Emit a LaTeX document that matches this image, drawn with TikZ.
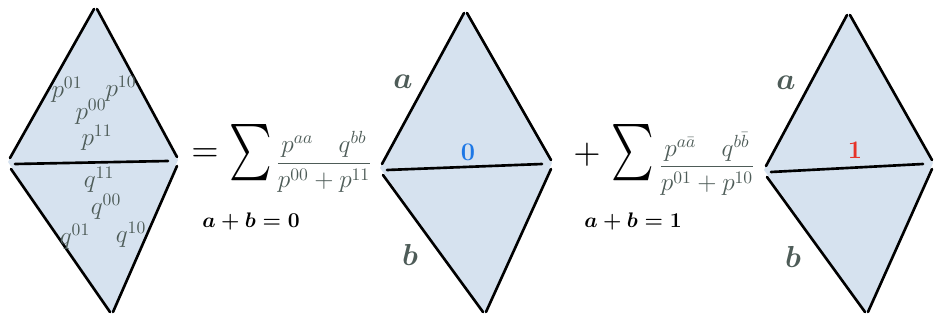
\documentclass[tikz,border=0pt]{standalone}
\usepackage{amsmath}
\usepackage{graphicx}
\usepackage{tikz}
\usetikzlibrary{calc}
\definecolor{cellblue}{RGB}{214,226,239}
\definecolor{chalk}{RGB}{78,92,88}
\definecolor{zeroblue}{RGB}{30,120,230}
\definecolor{onered}{RGB}{230,50,40}
\tikzset{
    % 菱形边线
    edge/.style={line width=1.5pt, black, line cap=round},
    lbl/.style={chalk, inner sep=0pt, font=\Large},
    sidelbl/.style={chalk, inner sep=0pt, font=\LARGE\boldmath},
    bigsym/.style={black, inner sep=0pt}
}
\begin{document}
\begin{tikzpicture}[x=0.02cm,y=-0.02cm]
	\useasboundingbox (0,0) rectangle (937,321);
	
	% 三个菱形
	\path
	(95,8) coordinate (t1) (8,162) coordinate (l1) (178,160) coordinate (r1) (112,313) coordinate (d1)
	(465,12) coordinate (t2) (380,168) coordinate (l2) (552,163) coordinate (r2) (485,313) coordinate (d2)
	(848,14) coordinate (t3) (764,170) coordinate (l3) (933,163) coordinate (r3) (867,313) coordinate (d3);
	
	\foreach \i in {1,2,3}{
		\fill[cellblue] (t\i) -- (r\i) -- (d\i) -- (l\i) -- cycle;
		\draw[edge] ($(l\i)+(2,-4)$) -- ($(t\i)+(-1,1)$);
		\draw[edge] ($(t\i)+(2,1)$) -- ($(r\i)+(-1,-3)$);
		\draw[edge] ($(l\i)+(3,7)$) -- ($(d\i)+(-2,-1)$);
		\draw[edge] ($(r\i)+(-1,6)$) -- ($(d\i)+(1,-1)$);
		\draw[edge] ($(l\i)+(7,2)$) -- ($(r\i)+(-10,1)$);
	}
	
	% 左边菱形里的文字
	\node[lbl] (p01) at (67,90) {$p^{01}$};
	\node[lbl] (p10) at (121,89) {$p^{10}$};
	\node[lbl] (p00) at (91,112) {$p^{00}$};
	\node[lbl] (p11) at (97,138) {$p^{11}$};
	\node[lbl] (q11) at (99,180) {$q^{11}$};
	\node[lbl] (q00) at (106,207) {$q^{00}$};
	\node[lbl] (q01) at (75,237) {$q^{01}$};
	\node[lbl] (q10) at (131,235) {$q^{10}$};
	
	% 等号和第一个求和
	\node[bigsym] (eq) at (205,155) {\scalebox{2}{$=$}};
	\node[bigsym] (sum0) at (251,153) {\scalebox{2.3}[3.2]{$\sum$}};
	\node[bigsym, font=\large\boldmath] (idx0) at (251,221) {$a+b=0$};
	\node[lbl] (frac0) at (324,162) {$\dfrac{p^{aa}\quad q^{bb}}{p^{00}+p^{11}}$};
	
	% 加号和第二个求和
	\node[bigsym] (plus) at (587,155) {\scalebox{2}{$+$}};
	\node[bigsym] (sum1) at (633,153) {\scalebox{2.3}[3.2]{$\sum$}};
	\node[bigsym, font=\large\boldmath] (idx1) at (633,221) {$a+b=1$};
	\node[lbl] (frac1) at (707,164) {$\dfrac{p^{a\bar a}\quad q^{b\bar b}}{p^{01}+p^{10}}$};
	
	% 边上的标记
	\node[sidelbl] (a2) at (403,82) {$a$};
	\node[sidelbl] (b2) at (410,255) {$b$};
	\node[sidelbl] (a3) at (786,83) {$a$};
	\node[sidelbl] (b3) at (793,257) {$b$};
	\node[zeroblue, inner sep=0pt, font=\Large\bfseries] (n0) at (468,152) {0};
	\node[onered, inner sep=0pt, font=\Large\bfseries] (n1) at (855,150) {1};
\end{tikzpicture}
\end{document}
